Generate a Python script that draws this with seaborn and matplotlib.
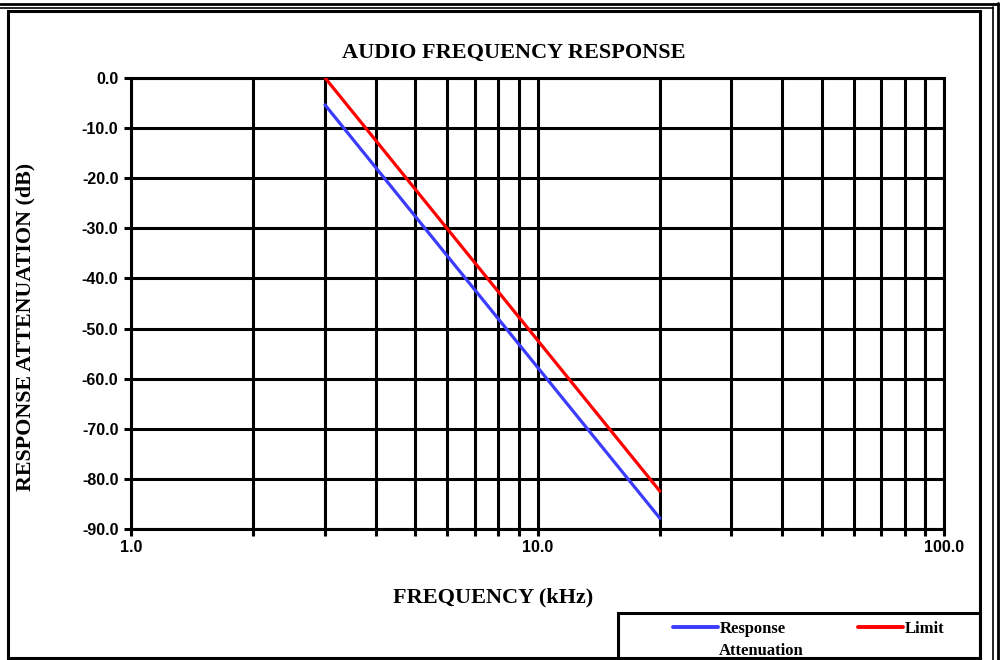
import pandas as pd
import matplotlib
matplotlib.use('Agg')
import matplotlib.pyplot as plt
from matplotlib.patches import Rectangle
from matplotlib.lines import Line2D
from matplotlib.ticker import LogLocator, NullFormatter
import seaborn as sns

# data
freq_khz = [3, 5, 10, 20]
response_db = [-5.4, -27.6, -57.7, -87.8]
limit_db = [0.0, -22.2, -52.3, -82.4]
series_names = ['Response', 'Limit']
series_colors = ['#3c3cff', '#ff0000']
y_ticks = [0, -10, -20, -30, -40, -50, -60, -70, -80, -90]
y_labels = ['0.0', '-10.0', '-20.0', '-30.0', '-40.0', '-50.0', '-60.0', '-70.0', '-80.0', '-90.0']
x_ticks = [1, 10, 100]
x_labels = ['1.0', '10.0', '100.0']

df = pd.DataFrame({
    'freq': freq_khz * 2,
    'db': response_db + limit_db,
    'series': [series_names[0]] * len(freq_khz) + [series_names[1]] * len(freq_khz),
})

sns.set_style('white')
plt.rcParams['text.color'] = 'black'
plt.rcParams['xtick.color'] = 'black'
plt.rcParams['ytick.color'] = 'black'
serif = ['Liberation Serif', 'DejaVu Serif']
sans = ['Liberation Sans', 'DejaVu Sans']

W, H = 1001, 660
fig = plt.figure(figsize=(W / 100, H / 100), dpi=100)
ax = fig.add_axes([131 / W, 1 - 529.3 / H, 813 / W, (529.3 - 77.7) / H])

sns.lineplot(data=df, x='freq', y='db', hue='series', palette=series_colors,
             hue_order=series_names, linewidth=2.3, legend=False, ax=ax, zorder=5)

ax.set_xscale('log')
ax.set_xlim(1, 100)
ax.set_ylim(-90, 0)
ax.xaxis.set_minor_locator(LogLocator(base=10, subs=range(2, 10)))
ax.xaxis.set_minor_formatter(NullFormatter())
ax.set_xticks(x_ticks)
ax.set_xticklabels(x_labels)
ax.set_yticks(y_ticks)
ax.set_yticklabels(y_labels)
ax.set_xlabel('')
ax.set_ylabel('')

ax.grid(True, which='both', axis='x', color='black', linewidth=2.2)
ax.grid(True, which='major', axis='y', color='black', linewidth=2.2)
for s in ax.spines.values():
    s.set_color('black')
    s.set_linewidth(2.2)
ax.tick_params(which='both', direction='out', length=5, width=2.2, color='black',
               labelcolor='black', bottom=True, left=True)
ax.tick_params(axis='x', pad=3)
ax.tick_params(axis='y', pad=4)
for lab in ax.get_xticklabels() + ax.get_yticklabels():
    lab.set_family(sans)
    lab.set_fontweight('bold')
    lab.set_fontsize(11.5)

fig.text(514 / W, 1 - 53 / H, 'AUDIO FREQUENCY RESPONSE', ha='center', va='center',
         family=serif, fontweight='bold', fontsize=16, color='black')
fig.text(493 / W, 1 - 597 / H, 'FREQUENCY (kHz)', ha='center', va='center',
         family=serif, fontweight='bold', fontsize=16, color='black')
fig.text(25 / W, 1 - 327 / H, 'RESPONSE ATTENUATION (dB)', ha='center', va='center',
         rotation=90, family=serif, fontweight='bold', fontsize=15.8, color='black')

# frames
def box(x0, y0, x1, y1, lw):
    fig.add_artist(Rectangle((x0 / W, 1 - y1 / H), (x1 - x0) / W, (y1 - y0) / H,
                             transform=fig.transFigure, fill=False,
                             edgecolor='black', linewidth=lw, zorder=10))

def hline(y, x0, x1, lw):
    fig.add_artist(Line2D([x0 / W, x1 / W], [1 - y / H, 1 - y / H],
                          transform=fig.transFigure, color='black', linewidth=lw))

def vline(x, y0, y1, lw):
    fig.add_artist(Line2D([x / W, x / W], [1 - y0 / H, 1 - y1 / H],
                          transform=fig.transFigure, color='black', linewidth=lw))

hline(3.5, 0, 997.5, 2.0)
hline(7.5, 0, 993, 1.2)
vline(997.5, 3, 660, 2.0)
vline(993, 7, 660, 1.2)
box(8, 10.5, 980, 658, 2.2)
box(618, 613, 980, 680, 2.2)

# legend
handles = [Line2D([], [], color=c, linewidth=2.8) for c in series_colors]
leg = fig.legend(handles, series_names, loc='upper left', ncol=2, frameon=False,
                 bbox_to_anchor=(666 / W, 1 - 614 / H), handlelength=2.7,
                 handletextpad=0.1, columnspacing=4.35, borderaxespad=0,
                 prop={'family': serif, 'weight': 'bold', 'size': 12})
fig.canvas.draw()
t0 = leg.get_texts()[0].get_window_extent()
fig.text(t0.x0 / W, (t0.y0 - 6) / H, 'Attenuation', ha='left', va='top',
         family=serif, fontweight='bold', fontsize=12, color='black')

fig.savefig('out.png', dpi=100)
